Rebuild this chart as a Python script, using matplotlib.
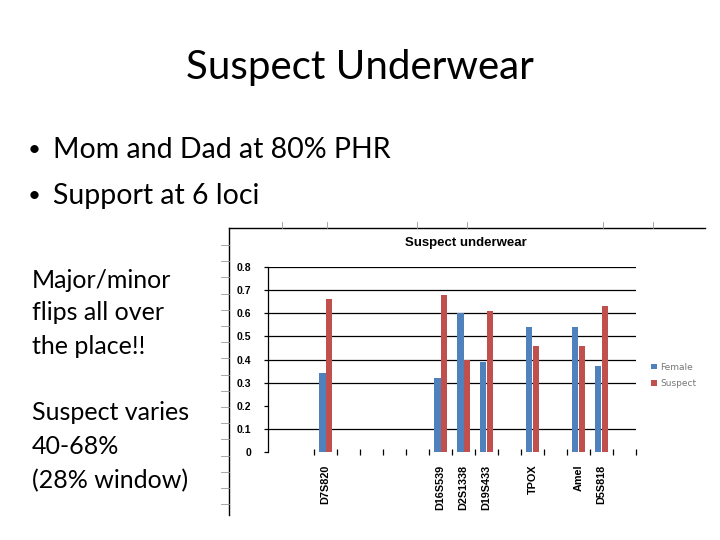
import matplotlib
matplotlib.use("Agg")
import matplotlib.pyplot as plt
from matplotlib.lines import Line2D
import numpy as np

# 16 category slots on the chart, only 7 carry data
loci = ["", "", "D7S820", "", "", "", "", "D16S539", "D2S1338", "D19S433",
        "", "TPOX", "", "Amel", "D5S818", ""]
female = [0, 0, 0.34, 0, 0, 0, 0, 0.32, 0.60, 0.39, 0, 0.54, 0, 0.54, 0.37, 0]
suspect = [0, 0, 0.66, 0, 0, 0, 0, 0.68, 0.40, 0.61, 0, 0.46, 0, 0.46, 0.63, 0]
grid_levels = [0.1, 0.3, 0.4, 0.5, 0.6, 0.7, 0.8]

blue = "#4F81BD"
red = "#C0504D"
W, H = 720, 540

fig = plt.figure(figsize=(7.2, 5.4), dpi=100)
fig.patch.set_facecolor("white")

def fx(px):
    return px / W

def fy(py):
    return 1 - py / H

slide_font = ["Lato", "DejaVu Sans"]
fig.text(fx(360), fy(68), "Suspect Underwear", ha="center", va="center",
         fontsize=29, family=slide_font)
for yy, s in [(150, "Mom and Dad at 80% PHR"), (196, "Support at 6 loci")]:
    fig.text(fx(34), fy(yy), "•", ha="center", va="center", fontsize=16,
             family=slide_font)
    fig.text(fx(53), fy(yy), s, ha="left", va="center", fontsize=20.5,
             family=slide_font)
for i, s in enumerate(["Major/minor", "flips all over", "the place!!"]):
    fig.text(fx(32), fy(280 + 33 * i), s, ha="left", va="center",
             fontsize=18, family=slide_font)
for i, s in enumerate(["Suspect varies", "40-68%", "(28% window)"]):
    fig.text(fx(32), fy(413 + 34 * i), s, ha="left", va="center",
             fontsize=18, family=slide_font)

# picture frame of the embedded chart
fig.add_artist(Line2D([fx(229), fx(229)], [fy(228), fy(515)], color="black", lw=1))
fig.add_artist(Line2D([fx(229), fx(705)], [fy(228), fy(228)], color="black", lw=1))
for yy in np.arange(245, 515, 16.2):
    fig.add_artist(Line2D([fx(221), fx(229)], [fy(yy), fy(yy)], color="#999999", lw=0.6))
for xx in [282, 327, 417, 467, 603, 653]:
    fig.add_artist(Line2D([fx(xx), fx(xx)], [fy(222), fy(228)], color="#999999", lw=0.6))

fig.text(fx(466), fy(243), "Suspect underwear", ha="center", va="center",
         fontsize=9.5, fontweight="bold", family="Liberation Sans")

ax = fig.add_axes([fx(268), fy(452), fx(636 - 268), (452 - 267) / H])
x = np.arange(len(loci))
bw = 0.28
ax.bar(x - bw / 2, female, bw, color=blue, label="Female", zorder=3)
ax.bar(x + bw / 2, suspect, bw, color=red, label="Suspect", zorder=3)
for g in grid_levels:
    ax.axhline(g, color="black", lw=0.9, zorder=1)

ax.set_xlim(-0.5, len(loci) - 0.5)
ax.set_ylim(0, 0.8)
for s in ["top", "right", "bottom"]:
    ax.spines[s].set_visible(False)
ax.spines["left"].set_linewidth(0.9)

ax.set_yticks(np.arange(0, 0.81, 0.1))
ax.set_yticklabels(["0", "0.1", "0.2", "0.3", "0.4", "0.5", "0.6", "0.7", "0.8"],
                   fontsize=7.5, fontweight="bold", family="Liberation Sans")
ax.tick_params(axis="y", length=3, width=0.9, pad=9)

ax.set_xticks(x)
ax.set_xticklabels(loci, rotation=90, fontsize=7.8, fontweight="bold",
                   family="Liberation Sans")
ax.tick_params(axis="x", which="major", length=0, pad=9)
ax.set_xticks(np.arange(1.5, len(loci), 1.0), minor=True)
ax.tick_params(axis="x", which="minor", length=5, width=0.9, direction="inout")

ax.legend(loc="center left", bbox_to_anchor=(1.02, 0.415), frameon=False,
          fontsize=6.5, handlelength=0.6, handleheight=0.6, labelcolor="#777777",
          handletextpad=0.4, labelspacing=0.8)

fig.savefig("out.png", dpi=100)
